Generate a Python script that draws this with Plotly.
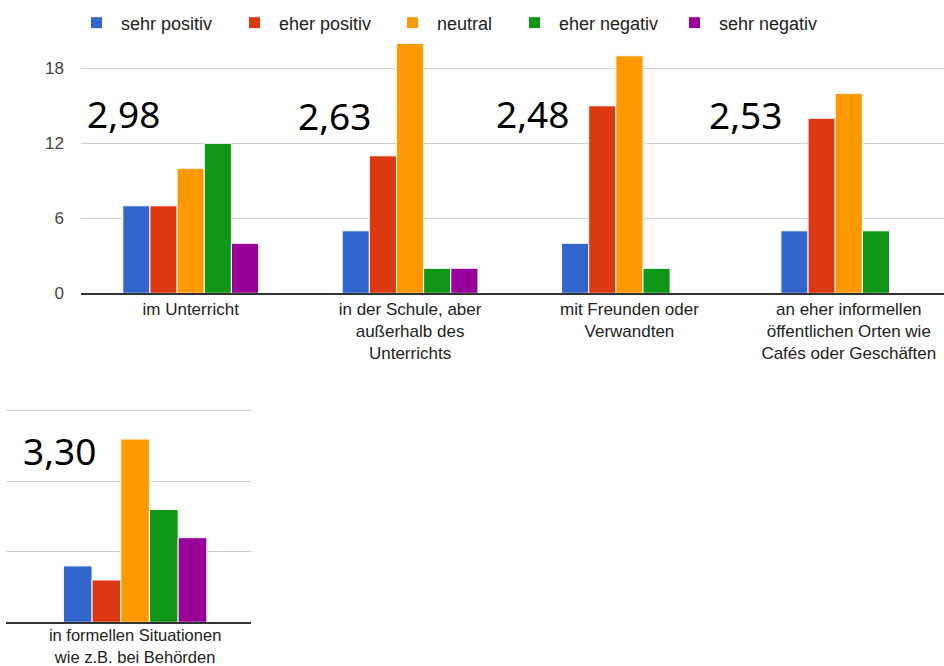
import plotly.graph_objects as go

# ---- data ----
categories_top = [
    "im Unterricht",
    "in der Schule, aber<br>außerhalb des<br>Unterrichts",
    "mit Freunden oder<br>Verwandten",
    "an eher informellen<br>öffentlichen Orten wie<br>Cafés oder Geschäften",
]
categories_bottom = ["in formellen Situationen<br>wie z.B. bei Behörden"]

series_names = ["sehr positiv", "eher positiv", "neutral", "eher negativ", "sehr negativ"]
sehr_positiv_top = [7, 5, 4, 5]
eher_positiv_top = [7, 11, 15, 14]
neutral_top = [10, 20, 19, 16]
eher_negativ_top = [12, 2, 2, 5]
sehr_negativ_top = [4, 2, 0, 0]

sehr_positiv_bottom = [4]
eher_positiv_bottom = [3]
neutral_bottom = [13]
eher_negativ_bottom = [8]
sehr_negativ_bottom = [6]

mean_labels_top = ["2,98", "2,63", "2,48", "2,53"]
mean_labels_bottom = ["3,30"]

y_ticks_top = [0, 6, 12, 18]
y_ticks_bottom = [0, 5, 10, 15]

colors = ["#3366CC", "#DC3912", "#FF9900", "#109618", "#990099"]

top_values = [sehr_positiv_top, eher_positiv_top, neutral_top, eher_negativ_top, sehr_negativ_top]
bottom_values = [sehr_positiv_bottom, eher_positiv_bottom, neutral_bottom, eher_negativ_bottom, sehr_negativ_bottom]

W, H = 944, 666

def fy(py):
    return (H - py) / H

def fx(px):
    return px / W

# legend swatch centres (px) in the reference layout
legend_swatch_x = [96, 254, 412, 534, 694]
legend_keys = ["legend", "legend2", "legend3", "legend4", "legend5"]

fig = go.Figure()
for name, col, vt, vb, lk in zip(series_names, colors, top_values, bottom_values, legend_keys):
    fig.add_trace(go.Bar(
        x=categories_top, y=vt, name=name, legendgroup=name, legend=lk,
        marker=dict(color=col, line=dict(color="white", width=1)),
        xaxis="x", yaxis="y", hoverinfo="skip",
    ))
    fig.add_trace(go.Bar(
        x=categories_bottom, y=vb, name=name, legendgroup=name, showlegend=False,
        marker=dict(color=col, line=dict(color="white", width=1)),
        xaxis="x2", yaxis="y2", hoverinfo="skip",
    ))

label_font = dict(family="Liberation Sans, Arial, sans-serif", size=17, color="#222222")
legend_font = dict(family="Liberation Sans, Arial, sans-serif", size=18, color="#222222")

layout_legends = {}
for lk, sx in zip(legend_keys, legend_swatch_x):
    layout_legends[lk] = dict(
        orientation="h", x=fx(sx - 24), xanchor="left", y=fy(23), yanchor="middle",
        font=legend_font, bgcolor="rgba(0,0,0,0)", itemwidth=39,
    )

fig.update_layout(
    width=W, height=H,
    margin=dict(l=0, r=0, t=0, b=0, autoexpand=False),
    paper_bgcolor="white", plot_bgcolor="white",
    barmode="group", bargap=0.381, bargroupgap=0,
    showlegend=True,
    **layout_legends,
    xaxis=dict(
        domain=[fx(81), 1], anchor="y", type="category", automargin=False,
        categoryorder="array", categoryarray=categories_top,
        range=[-0.5, 3.434], showgrid=False, zeroline=False,
        showline=True, linecolor="#333333", linewidth=2,
        tickfont=label_font, ticks="", ticklabelstandoff=-1,
    ),
    yaxis=dict(
        domain=[fy(293.3), fy(40.8)], anchor="x", automargin=False,
        range=[0, 20.2], tickvals=y_ticks_top,
        showgrid=True, gridcolor="#d0d0d0", gridwidth=1, zeroline=False,
        tickfont=dict(family="Liberation Sans, Arial, sans-serif", size=17, color="#444444"),
        ticklabelstandoff=16, ticks="",
    ),
    xaxis2=dict(
        domain=[fx(6), fx(251)], anchor="y2", type="category", automargin=False,
        categoryorder="array", categoryarray=categories_bottom,
        range=[-0.557, 0.50], showgrid=False, zeroline=False,
        showline=True, linecolor="#333333", linewidth=2,
        tickfont=dict(family="Liberation Sans, Arial, sans-serif", size=16.5, color="#222222"),
        ticks="", ticklabelstandoff=-3,
    ),
    yaxis2=dict(
        domain=[fy(622.3), fy(396.7)], anchor="x2", automargin=False,
        range=[0, 16], tickvals=y_ticks_bottom,
        showgrid=True, gridcolor="#d0d0d0", gridwidth=1, zeroline=False,
        showticklabels=False, ticks="",
    ),
)

# mean value labels
top_label_pos = [(85, 113), (296, 115), (494, 113), (707, 114)]
bottom_label_pos = [(21, 450)]
ann_font = dict(family="Noto Sans, Open Sans, sans-serif", size=37, color="black")
for txt, (px, py) in zip(mean_labels_top + mean_labels_bottom, top_label_pos + bottom_label_pos):
    fig.add_annotation(
        text=txt, xref="paper", yref="paper", x=fx(px), y=fy(py),
        xanchor="left", yanchor="middle", showarrow=False, font=ann_font,
    )

fig.write_html(
    "out.html",
    config={"displayModeBar": False},
    post_script="document.body.style.margin='0';document.body.style.overflow='hidden';",
)
